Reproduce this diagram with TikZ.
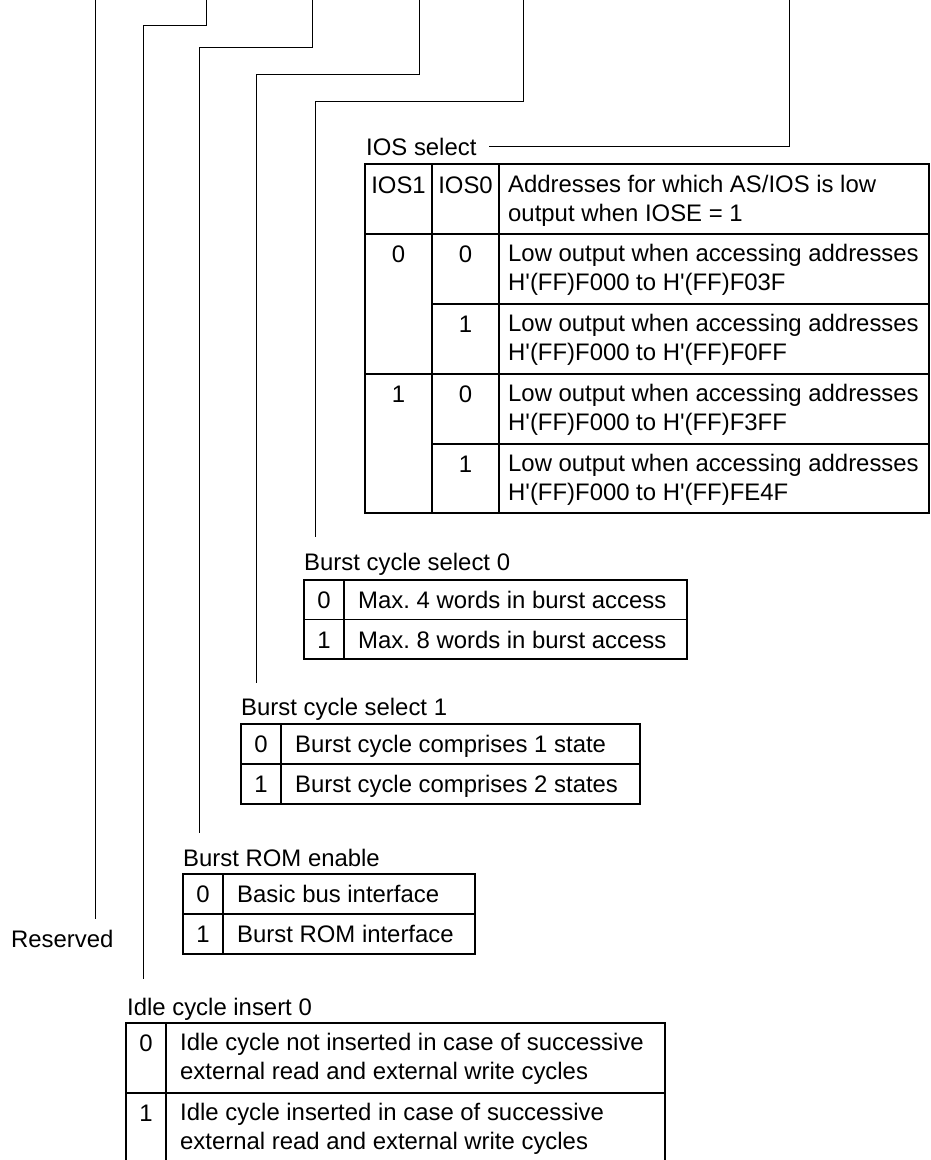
\documentclass[tikz,border=0pt]{standalone}
\usepackage{fontspec}
\setmainfont{Liberation Sans}
\usetikzlibrary{positioning,calc}
\definecolor{ink}{HTML}{000000}
\tikzset{
  lbl/.style={font=\fontsize{23.9}{29}\selectfont, text=ink, inner sep=0pt, anchor=base west},
  numb/.style={font=\fontsize{23.9}{29}\selectfont, text=ink, inner sep=0pt, anchor=base},
  two/.style={font=\fontsize{23.9}{29}\selectfont, text=ink, inner sep=0pt, anchor=west, align=left},
  rule/.style={draw=ink, line width=1.1pt},
  lead/.style={draw=ink, line width=1pt},
}
\newcommand{\ap}{\textquotesingle}
\frenchspacing

\begin{document}
\begin{tikzpicture}[x=1pt, y=-1pt]
\useasboundingbox (0,0) rectangle (930,1160);
% reserved bit
\coordinate (topR) at (95,0);
\coordinate (endR) at (95,919);
\draw[lead] (topR) -- (endR);
\node[lbl] (res) at (11,947) {Reserved};
% IOS select
\node[lbl] (ios) at (366,155) {IOS select};
\coordinate (topF) at (789,0);
\draw[lead] (topF) |- ([xshift=12pt]ios.east);
\draw[rule] (365,164) rectangle (929,513);
\draw[rule] (432,164) -- (432,513);
\draw[rule] (499,164) -- (499,513);
\draw[rule] (365,234) -- (929,234);
\draw[rule] (432,304) -- (929,304);
\draw[rule] (365,374) -- (929,374);
\draw[rule] (432,444) -- (929,444);
\node[numb] (iosh1) at (398.5,193) {IOS1};
\node[numb] (iosh0) at (465.5,193) {IOS0};
\node[two] (iosh) at (508,201) {Addresses for which AS/IOS is low\\output when IOSE = 1};
\node[numb] (ios1a) at (398.5,262) {0};
\node[numb] (ios1b) at (398.5,402) {1};
\node[numb] (ios0a) at (465.5,262) {0};
\node[numb] (ios0b) at (465.5,332) {1};
\node[numb] (ios0c) at (465.5,402) {0};
\node[numb] (ios0d) at (465.5,472) {1};
\node[two] (iosd0) at (508,270) {Low output when accessing addresses\\H\ap(FF)F000 to H\ap(FF)F03F};
\node[two] (iosd1) at (508,340) {Low output when accessing addresses\\H\ap(FF)F000 to H\ap(FF)F0FF};
\node[two] (iosd2) at (508,410) {Low output when accessing addresses\\H\ap(FF)F000 to H\ap(FF)F3FF};
\node[two] (iosd3) at (508,480) {Low output when accessing addresses\\H\ap(FF)F000 to H\ap(FF)FE4F};
% burst cycle select 0
\coordinate (topE) at (523,0);
\coordinate (endE) at (315,537);
\draw[lead] (topE) -- ++(0,101) -| (endE);
\node[lbl] (bcs0) at (304,570) {Burst cycle select 0};
\draw[rule] (304,580) rectangle (687,659);
\draw[rule] (304,619.5) -- (687,619.5);
\draw[rule] (344,580) -- (344,659);
\node[numb] (bcs0n0) at (324,608) {0};
\node[lbl] (bcs0d0) at (358,608) {Max. 4 words in burst access};
\node[numb] (bcs0n1) at (324,648) {1};
\node[lbl] (bcs0d1) at (358,648) {Max. 8 words in burst access};
% burst cycle select 1
\coordinate (topD) at (419,0);
\coordinate (endD) at (256,683);
\draw[lead] (topD) -- ++(0,74) -| (endD);
\node[lbl] (bcs1) at (241,715) {Burst cycle select 1};
\draw[rule] (241,724) rectangle (640,804);
\draw[rule] (241,764) -- (640,764);
\draw[rule] (281,724) -- (281,804);
\node[numb] (bcs1n0) at (261,752) {0};
\node[lbl] (bcs1d0) at (295,752) {Burst cycle comprises 1 state};
\node[numb] (bcs1n1) at (261,792) {1};
\node[lbl] (bcs1d1) at (295,792) {Burst cycle comprises 2 states};
% burst ROM enable
\coordinate (topC) at (312,0);
\coordinate (endC) at (199,833);
\draw[lead] (topC) -- ++(0,47) -| (endC);
\node[lbl] (bre) at (183,866) {Burst ROM enable};
\draw[rule] (183,874) rectangle (475,954);
\draw[rule] (183,914) -- (475,914);
\draw[rule] (223,874) -- (223,954);
\node[numb] (bren0) at (203,902) {0};
\node[lbl] (bred0) at (237,902) {Basic bus interface};
\node[numb] (bren1) at (203,942) {1};
\node[lbl] (bred1) at (237,942) {Burst ROM interface};
% idle cycle insert 0
\coordinate (topB) at (206,0);
\coordinate (endB) at (143,979);
\draw[lead] (topB) -- ++(0,25) -| (endB);
\node[lbl] (ici) at (127,1015) {Idle cycle insert 0};
\draw[rule] (126,1023) rectangle (665,1163);
\draw[rule] (126,1093) -- (665,1093);
\draw[rule] (166,1023) -- (166,1163);
\node[numb] (icin0) at (146,1051) {0};
\node[two] (icid0) at (180,1059) {Idle cycle not inserted in case of successive\\external read and external write cycles};
\node[numb] (icin1) at (146,1121) {1};
\node[two] (icid1) at (180,1129) {Idle cycle inserted in case of successive\\external read and external write cycles};
\end{tikzpicture}
\end{document}
